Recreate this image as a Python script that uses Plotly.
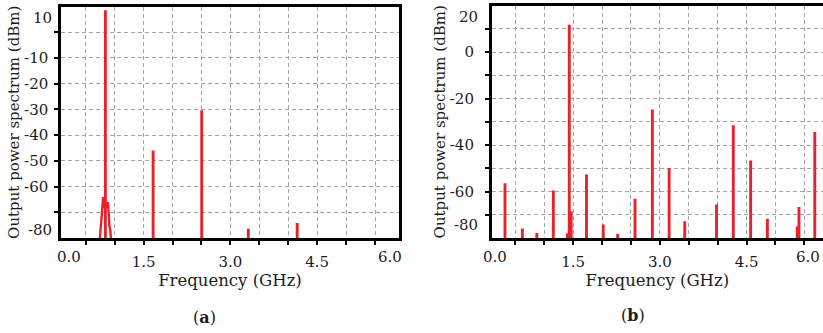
import plotly.graph_objects as go

# ---------------- data ----------------
# Panel (a): output spectrum, single-tone drive
a_freq = [0.84, 1.665, 2.505, 3.31, 4.155]          # GHz
a_dbm = [8.5, -46.0, -30.3, -76.4, -74.2]            # dBm
# skirt of the fundamental (noise pedestal)
a_skirt_freq = [0.745, 0.752, 0.765, 0.778, 0.790, 0.800, 0.812, 0.826,
                0.858, 0.870, 0.886, 0.898, 0.910, 0.925, 0.935]
a_skirt_dbm = [-80, -77.5, -76.5, -72, -66, -64.5, -64.5, -68,
               -68, -66.5, -66.5, -72, -75.5, -77.0, -80]

# Panel (b): output spectrum, second case
b_freq = [0.32, 0.62, 0.87, 1.156, 1.40, 1.432, 1.465, 1.73, 2.02, 2.27,
          2.57, 2.87, 3.16, 3.43, 3.98, 4.27, 4.57, 4.86, 5.377, 5.406, 5.68]
b_dbm = [-56.4, -75.9, -77.8, -59.6, -78.0, 11.7, -68.5, -52.7, -74.2, -78.2,
         -63.1, -24.7, -49.9, -72.8, -65.6, -31.5, -46.7, -71.7, -75.0, -66.7, -34.4]

# axis tick labels
x_tick_vals = [1.5, 3.0, 4.5]
a_y_grid = [-70, -60, -50, -40, -30, -20, -10, 0]
a_y_text = ["", "-60", "-50", "-40", "-30", "-20", "-10", ""]
b_y_grid = [-70, -60, -50, -40, -30, -20, -10, 0, 10]
b_y_text = ["", "-60", "", "-40", "", "-20", "", "0", ""]

FLOOR_A = -80
FLOOR_B = -80
RED = "#e8212b"
FONT = "DejaVu Serif"
TXT = "#1c1c1c"

DOM_A_X = [61 / 823, 399 / 823]
DOM_B_X = [491.7 / 823, 1.0]
DOM_Y = [95 / 333, 326.5 / 333]
DOM_YB = [95 / 333, 327.5 / 333]

fig = go.Figure()
fig.add_trace(go.Bar(x=a_freq, y=[v - FLOOR_A for v in a_dbm], base=FLOOR_A,
                     width=0.05, marker=dict(color=RED, line=dict(width=0)),
                     xaxis="x", yaxis="y", showlegend=False, hoverinfo="skip"))
fig.add_trace(go.Scatter(x=a_skirt_freq, y=a_skirt_dbm, mode="lines",
                         line=dict(color=RED, width=2.4),
                         xaxis="x", yaxis="y", showlegend=False, hoverinfo="skip"))
fig.add_trace(go.Bar(x=b_freq, y=[v - FLOOR_B for v in b_dbm], base=FLOOR_B,
                     width=0.05, marker=dict(color=RED, line=dict(width=0)),
                     xaxis="x2", yaxis="y2", showlegend=False, hoverinfo="skip"))

TICK_SIZE = 15
grid = dict(showgrid=True, gridcolor="#a5a5a5", gridwidth=1, griddash="4px,3px",
            ticks="outside", ticklen=4, tickwidth=1.5, tickcolor="black",
            showline=True, linecolor="black", linewidth=2.5, zeroline=False,
            tickfont=dict(family=FONT, size=TICK_SIZE, color=TXT))

xgrid_vals = [0.5 * i for i in range(1, 12)]
def xtext(vals):
    return [("%.1f" % v) if v in x_tick_vals else "" for v in vals]

xtitle = dict(text="Frequency (GHz)", font=dict(family=FONT, size=16.5, color=TXT), standoff=3)
ytitle = dict(text="Output power spectrum (dBm)", font=dict(family=FONT, size=15, color=TXT), standoff=1)

fig.update_layout(
    width=823, height=333, margin=dict(l=0, r=0, t=0, b=0),
    paper_bgcolor="white", plot_bgcolor="white", barmode="overlay",
    xaxis=dict(domain=DOM_A_X, range=[0.073, 5.914], anchor="y", mirror=True,
               tickmode="array", tickvals=xgrid_vals, ticktext=xtext(xgrid_vals),
               ticklabelstandoff=4, title=xtitle, **grid),
    yaxis=dict(domain=DOM_Y, range=[-80, 10], anchor="x", mirror=True,
               tickmode="array", tickvals=a_y_grid, ticktext=a_y_text,
               ticklabelstandoff=3, title=ytitle, **grid),
    xaxis2=dict(domain=DOM_B_X, range=[0.09, 5.822], anchor="y2", mirror=True,
                tickmode="array", tickvals=xgrid_vals, ticktext=xtext(xgrid_vals),
                ticklabelstandoff=4, title=xtitle, **grid),
    yaxis2=dict(domain=DOM_YB, range=[-80, 20], anchor="x2", mirror=False,
                tickmode="array", tickvals=b_y_grid, ticktext=b_y_text,
                ticklabelstandoff=8, title=ytitle, **grid),
)

tf = dict(family=FONT, size=TICK_SIZE, color=TXT)
ann = [
    # edge tick labels drawn inside the axis ends
    dict(x=0.21, y=DOM_Y[0], xref="x", yref="paper", text="0.0", yanchor="top", yshift=-8),
    dict(x=5.76, y=DOM_Y[0], xref="x", yref="paper", text="6.0", yanchor="top", yshift=-8),
    dict(x=0.147, y=DOM_Y[0], xref="x2", yref="paper", text="0.0", yanchor="top", yshift=-8),
    dict(x=1.0, y=DOM_Y[0], xref="paper", yref="paper", text="6.0", xanchor="right",
         yanchor="top", yshift=-8, xshift=-1),
    dict(x=DOM_A_X[0], y=5.6, xref="paper", yref="y", text="10", xanchor="right", yanchor="middle", xshift=-7),
    dict(x=DOM_A_X[0], y=-76.7, xref="paper", yref="y", text="-80", xanchor="right", yanchor="middle", xshift=-7),
    dict(x=DOM_B_X[0], y=15, xref="paper", yref="y2", text="20", xanchor="right", yanchor="middle", xshift=-12),
    dict(x=DOM_B_X[0], y=-74.5, xref="paper", yref="y2", text="-80", xanchor="right", yanchor="middle", xshift=-12),
]
for a in ann:
    a.update(showarrow=False, font=tf)
    fig.add_annotation(**a)

fig.add_annotation(x=204 / 823, y=(333 - 317) / 333, xref="paper", yref="paper",
                   xanchor="center", yanchor="middle",
                   text="(<b>a</b>)", showarrow=False, font=dict(family=FONT, size=16, color=TXT))
fig.add_annotation(x=632.5 / 823, y=(333 - 315) / 333, xref="paper", yref="paper",
                   xanchor="center", yanchor="middle",
                   text="(<b>b</b>)", showarrow=False, font=dict(family=FONT, size=16, color=TXT))

fig.write_html("out.html")
